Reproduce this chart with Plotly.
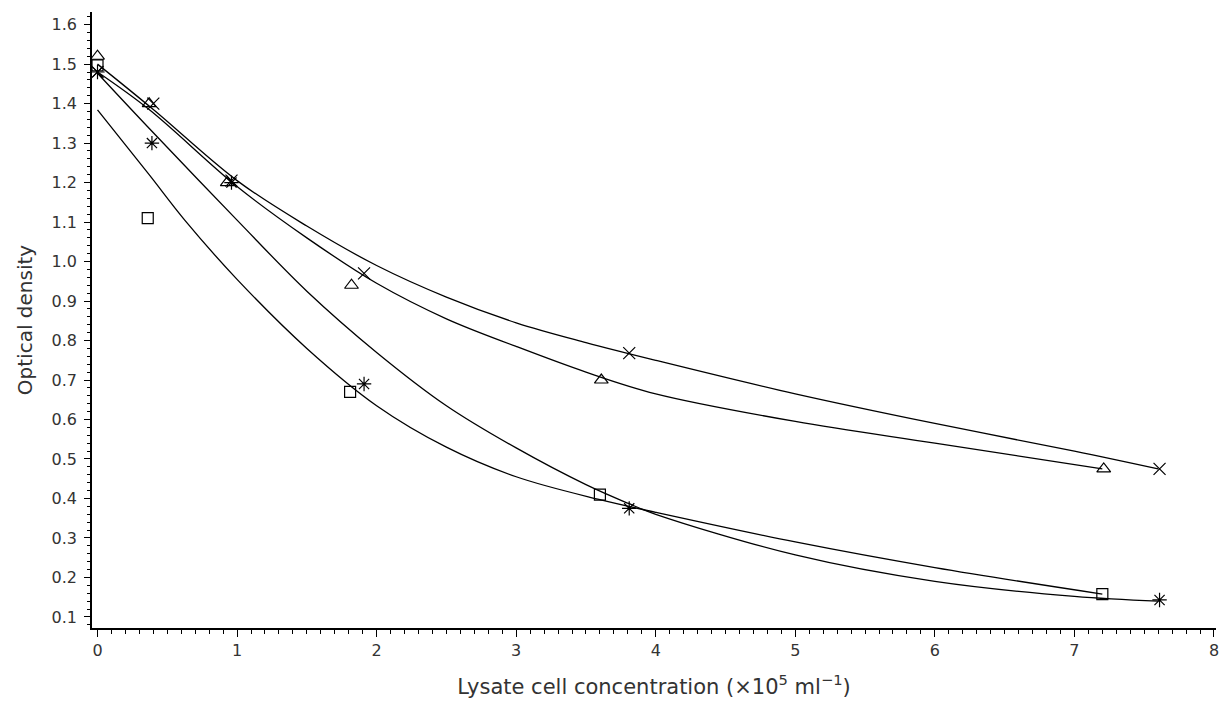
import plotly.graph_objects as go

# ---- measured points ----
tri_x = [0, 0.37, 0.93, 1.82, 3.61, 7.21]
tri_y = [1.52, 1.40, 1.20, 0.94, 0.70, 0.475]

cross_x = [0, 0.40, 0.96, 1.91, 3.81, 7.61]
cross_y = [1.48, 1.40, 1.205, 0.97, 0.768, 0.475]

sq_x = [0, 0.36, 1.81, 3.60, 7.20]
sq_y = [1.497, 1.11, 0.67, 0.41, 0.158]

star_x = [0, 0.39, 0.96, 1.91, 3.81, 7.61]
star_y = [1.48, 1.30, 1.20, 0.69, 0.375, 0.143]

# ---- fitted curves ----
fit_cross_x = [0, 0.4, 1.0, 1.5, 2.0, 2.5, 3.0, 3.5, 4.0, 5.0, 6.0, 7.0, 7.6]
fit_cross_y = [1.50, 1.385, 1.205, 1.09, 0.99, 0.91, 0.845, 0.795, 0.75, 0.665, 0.59, 0.52, 0.475]

fit_tri_x = [0, 0.37, 1.0, 1.5, 2.0, 2.5, 3.0, 3.5, 4.0, 5.0, 6.0, 7.2]
fit_tri_y = [1.48, 1.385, 1.19, 1.06, 0.945, 0.855, 0.785, 0.72, 0.665, 0.595, 0.54, 0.475]

fit_star_x = [0, 0.39, 1.0, 1.5, 2.0, 2.5, 3.0, 3.5, 3.8, 4.0, 5.0, 6.0, 7.0, 7.6]
fit_star_y = [1.477, 1.33, 1.105, 0.925, 0.77, 0.635, 0.528, 0.435, 0.388, 0.36, 0.257, 0.19, 0.152, 0.14]

fit_sq_x = [0, 0.37, 0.625, 1.0, 1.5, 2.0, 2.5, 3.0, 3.6, 4.0, 5.0, 6.0, 7.2]
fit_sq_y = [1.384, 1.22, 1.105, 0.955, 0.78, 0.635, 0.53, 0.455, 0.397, 0.365, 0.29, 0.225, 0.158]

# ---- axis ticks ----
x_ticks = [0, 1, 2, 3, 4, 5, 6, 7, 8]
y_ticks = [0.1, 0.2, 0.3, 0.4, 0.5, 0.6, 0.7, 0.8, 0.9, 1.0, 1.1, 1.2, 1.3, 1.4, 1.5, 1.6]
y_tick_text = ["0.1", "0.2", "0.3", "0.4", "0.5", "0.6", "0.7", "0.8", "0.9",
               "1.0", "1.1", "1.2", "1.3", "1.4", "1.5", "1.6"]

fig = go.Figure()
line_style = dict(color="black", width=1.3, shape="spline", smoothing=1.0)
for fx, fy in [(fit_cross_x, fit_cross_y), (fit_tri_x, fit_tri_y),
               (fit_star_x, fit_star_y), (fit_sq_x, fit_sq_y)]:
    fig.add_trace(go.Scatter(x=fx, y=fy, mode="lines", line=line_style,
                             showlegend=False, hoverinfo="skip"))

def mk(symbol, size):
    return dict(symbol=symbol, size=size, color="black",
                line=dict(color="black", width=1.2))

fig.add_trace(go.Scatter(x=tri_x, y=tri_y, mode="markers",
                         marker=mk("triangle-up-open", 12), showlegend=False))
fig.add_trace(go.Scatter(x=cross_x, y=cross_y, mode="markers",
                         marker=mk("x-thin-open", 12), showlegend=False))
fig.add_trace(go.Scatter(x=sq_x, y=sq_y, mode="markers",
                         marker=mk("square-open", 11), showlegend=False))
fig.add_trace(go.Scatter(x=star_x, y=star_y, mode="markers",
                         marker=mk("asterisk-open", 12), showlegend=False))

tick_font = dict(family="DejaVu Sans, sans-serif", size=16, color="#333333")
NB = "\u00a0"
fig.update_layout(
    width=1219, height=700,
    margin=dict(l=84, r=11, t=4, b=80, autoexpand=False),
    paper_bgcolor="white", plot_bgcolor="white",
    font=dict(family="DejaVu Sans, sans-serif", color="#333333"),
    xaxis=dict(
        range=[-0.0394, 8.0145], tickvals=x_ticks, ticktext=[str(v) for v in x_ticks],
        showgrid=False, zeroline=False, showline=True, linecolor="black", linewidth=1.5,
        ticks="outside", ticklen=7, tickwidth=1.2, tickcolor="black",
        tickfont=tick_font, automargin=False, ticklabeloverflow="allow",
        minor=dict(dtick=0.1, ticks="outside", ticklen=4, tickwidth=1, tickcolor="black"),
        title=dict(text="Lysate" + NB + "cell" + NB + "concentration" + NB
                   + "(×10<sup>5</sup>" + NB + "ml<sup>−1</sup>)",
                   font=dict(size=21, color="#333333"), standoff=20),
    ),
    yaxis=dict(
        range=[0.072, 1.632], tickvals=y_ticks, ticktext=y_tick_text,
        showgrid=False, zeroline=False, showline=True, linecolor="black", linewidth=1.5,
        ticks="outside", ticklen=6, tickwidth=1.2, tickcolor="black",
        tickfont=tick_font, automargin=False, ticklabelstandoff=4,
        minor=dict(dtick=0.02, ticks="outside", ticklen=3, tickwidth=1, tickcolor="black"),
        title=dict(text="Optical" + NB + "density", font=dict(size=20, color="#333333"),
                   standoff=14),
    ),
)

fig.write_html("out.html")
